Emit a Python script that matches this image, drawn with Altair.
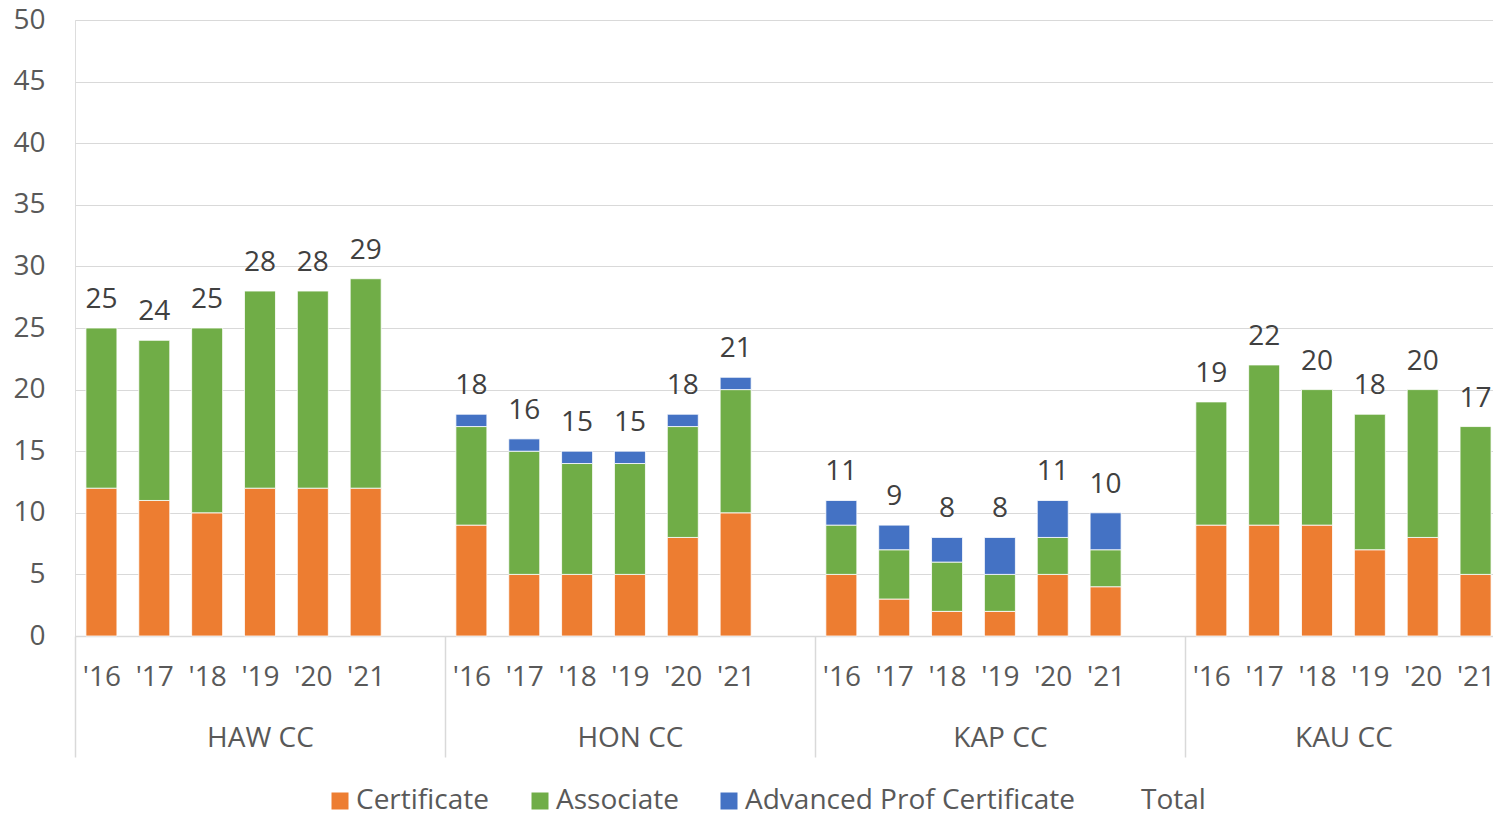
import json
import altair as alt
import pandas as pd

groups = ["HAW CC", "HON CC", "KAP CC", "KAU CC"]
years = ["'16", "'17", "'18", "'19", "'20", "'21"]
series = ["Certificate", "Associate", "Advanced Prof Certificate"]
colors = ["#ED7D31", "#70AD47", "#4472C4"]

certificate = [12, 11, 10, 12, 12, 12,
               9, 5, 5, 5, 8, 10,
               5, 3, 2, 2, 5, 4,
               9, 9, 9, 7, 8, 5]
associate = [13, 13, 15, 16, 16, 17,
             8, 10, 9, 9, 9, 10,
             4, 4, 4, 3, 3, 3,
             10, 13, 11, 11, 12, 12]
advanced = [0, 0, 0, 0, 0, 0,
            1, 1, 1, 1, 1, 1,
            2, 2, 2, 3, 3, 3,
            0, 0, 0, 0, 0, 0]

SLOTS = 7  # six years plus one empty slot per group (Excel multi-level axis)

rows = []
tot_rows = []
for gi, g in enumerate(groups):
    for yi, yr in enumerate(years):
        i = gi * len(years) + yi
        xc = gi * SLOTS + yi + 0.5
        vals = [certificate[i], associate[i], advanced[i]]
        for k, (s, v) in enumerate(zip(series, vals)):
            if v > 0:
                rows.append({"xc": xc, "series": s, "k": k, "value": v})
        tot_rows.append({"xc": xc, "group": g, "year": yr, "total": sum(vals)})

df = pd.DataFrame(rows)
tot = pd.DataFrame(tot_rows)

FONT = "Open Sans"
FS = 28
x_domain = [0, 26.83]
centers = [r["xc"] for r in tot_rows]
group_centers = [0 * SLOTS + 3.5, 1 * SLOTS + 3.5, 2 * SLOTS + 3.5, 3 * SLOTS + 3.0]
boundaries = [g * SLOTS for g in range(len(groups))]

year_expr = f"{json.dumps(years)}[floor(datum.value) % {SLOTS}]"
group_expr = f"{json.dumps(groups)}[floor(datum.value / {SLOTS})]"

xscale = alt.Scale(domain=x_domain, nice=False, zero=False, padding=0)

color_scale = alt.Scale(domain=series + ["Total"], range=colors + ["rgba(0,0,0,0)"])

bars = alt.Chart(df).mark_bar(size=31, stroke="white", strokeWidth=0.8).encode(
    x=alt.X("xc:Q", scale=xscale, title=None,
            axis=alt.Axis(orient="bottom", values=centers, labelExpr=year_expr,
                          grid=False, ticks=False, domain=True, domainColor="#d9d9d9",
                          domainWidth=1.5, labelPadding=27, labelFontSize=FS,
                          labelColor="#595959", labelFont=FONT, labelBaseline="top")),
    y=alt.Y("value:Q", stack="zero", scale=alt.Scale(domain=[0, 50], nice=False),
            title=None,
            axis=alt.Axis(values=list(range(0, 51, 5)), grid=True, gridColor="#d9d9d9",
                          gridWidth=1, domain=False, ticks=False, labelFontSize=FS,
                          labelColor="#595959", labelFont=FONT, labelPadding=30)),
    color=alt.Color("series:N", scale=color_scale, title=None,
                    legend=alt.Legend(orient="none", direction="horizontal",
                                      legendX=251, legendY=767,
                                      symbolType="square", symbolSize=289,
                                      symbolStrokeWidth=0, labelFontSize=FS,
                                      labelColor="#595959", labelFont=FONT,
                                      labelOffset=2, columnPadding=36,
                                      labelLimit=600, symbolOpacity=1)),
    order=alt.Order("k:Q"),
)

labels = alt.Chart(tot).mark_text(fontSize=FS, color="#404040", font=FONT,
                                  baseline="alphabetic", dy=-20).encode(
    x=alt.X("xc:Q", scale=xscale, title=None,
            axis=alt.Axis(orient="bottom", values=group_centers, labelExpr=group_expr,
                          grid=False, ticks=False, domain=False, labelPadding=88,
                          labelFontSize=FS, labelColor="#595959", labelFont=FONT,
                          labelBaseline="top")),
    y=alt.Y("total:Q"),
    text=alt.Text("total:Q"),
)

seps = alt.Chart(tot).mark_point(opacity=0).encode(
    x=alt.X("xc:Q", scale=xscale, title=None,
            axis=alt.Axis(orient="bottom", values=boundaries, labels=False,
                          grid=False, ticks=True, tickSize=121, tickColor="#d9d9d9",
                          tickWidth=1.5, domain=False)),
    y=alt.Y("total:Q"),
)

chart = alt.layer(bars, labels, seps).resolve_axis(x="independent").resolve_scale(
    x="shared"
).properties(
    width=1418, height=616,
    autosize=alt.AutoSizeParams(type="none"),
    padding={"left": 67, "top": 12, "right": 0, "bottom": 182},
).configure_view(stroke=None).configure(background="white")

chart.save("out.html", embed_options={"renderer": "svg", "actions": False})
